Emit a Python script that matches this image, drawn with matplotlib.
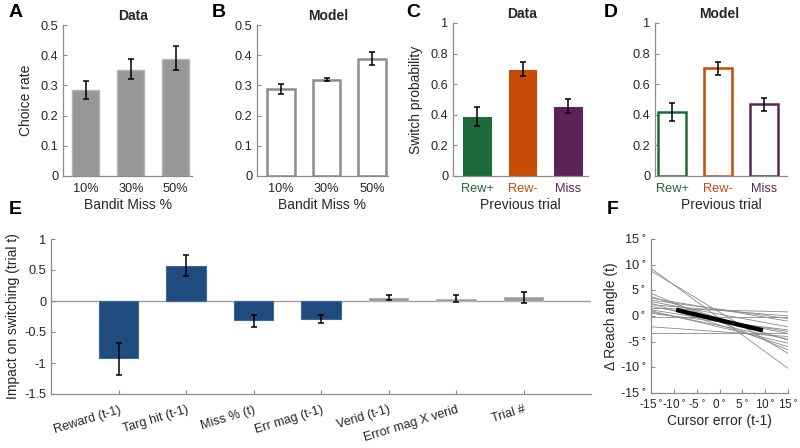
import matplotlib
matplotlib.use("Agg")
import matplotlib.pyplot as plt

plt.rcParams['font.family'] = ['Liberation Sans', 'DejaVu Sans']
plt.rcParams['axes.unicode_minus'] = False

# panels A/B: choice rate by bandit miss %
miss_labels = ['10%', '30%', '50%']
choice_data = [0.286, 0.351, 0.388]
choice_data_lo = [0.256, 0.321, 0.351]
choice_data_hi = [0.316, 0.386, 0.429]
choice_model = [0.289, 0.319, 0.389]
choice_model_lo = [0.271, 0.313, 0.369]
choice_model_hi = [0.304, 0.323, 0.410]

# panels C/D: switch probability by previous trial
prev_labels = ['Rew+', 'Rew-', 'Miss']
prev_colors = ['#1f6a3a', '#c84b06', '#5b2456']
switch_data = [0.387, 0.696, 0.453]
switch_data_lo = [0.326, 0.654, 0.414]
switch_data_hi = [0.453, 0.742, 0.501]
switch_model = [0.420, 0.709, 0.473]
switch_model_lo = [0.359, 0.661, 0.425]
switch_model_hi = [0.479, 0.748, 0.512]

# panel E: regression weights
reg_labels = ['Reward (t-1)', 'Targ hit (t-1)', 'Miss % (t)', 'Err mag (t-1)',
              'Verid (t-1)', 'Error mag X verid', 'Trial #']
reg_vals = [-0.92, 0.57, -0.31, -0.29, 0.045, 0.035, 0.06]
reg_lo = [-1.20, 0.41, -0.42, -0.36, 0.015, -0.02, -0.03]
reg_hi = [-0.67, 0.75, -0.22, -0.23, 0.09, 0.10, 0.15]
reg_sig = [True, True, True, True, False, False, False]

# panel F: per-subject fits, value at x=-15 and x=15
subj_left = [9.3, 8.8, 4.4, 3.8, 3.1, 2.5, 1.9, 1.5, 1.0, 0.5, -0.1, -2.1, -3.4,
             3.5, 2.2, 1.2, 0.8, 2.8]
subj_right = [-10.2, -7.3, -6.6, -4.7, -0.5, -6.0, -3.4, 0.8, -5.3, -2.7, -0.1, -4.0, -3.4,
              -1.0, 0.0, -3.0, -4.5, -2.1]
mean_x = [-9.5, 9.5]
mean_y = [1.2, -2.8]

W, H = 800, 448
fig = plt.figure(figsize=(8, 4.48), dpi=100)

SPINE = '#8c8c8c'
TXT = '#262626'
TICK_FS = 9.2
LAB_FS = 10


def make_ax(l, r, t, b):
    ax = fig.add_axes([l / W, 1 - b / H, (r - l) / W, (b - t) / H])
    for s in ['top', 'right']:
        ax.spines[s].set_visible(False)
    for s in ['left', 'bottom']:
        ax.spines[s].set_color(SPINE)
        ax.spines[s].set_linewidth(0.9)
    ax.tick_params(direction='in', length=3, width=0.8, color=SPINE,
                   labelsize=TICK_FS, labelcolor=TXT)
    return ax


def errs(v, lo, hi):
    return [[a - b for a, b in zip(v, lo)], [b - a for a, b in zip(v, hi)]]


def yfmt(v):
    return '0' if v == 0 else ('%g' % v)


def bar_panel(ax, vals, lo, hi, labels, face, edge, lw, ylim, yticks):
    x = [1, 2, 3]
    ax.bar(x, vals, width=0.6, color=face, edgecolor=edge, linewidth=lw, zorder=2)
    ax.errorbar(x, vals, yerr=errs(vals, lo, hi), fmt='none', ecolor='black',
                elinewidth=1.1, capsize=2.5, capthick=1.1, zorder=3)
    ax.set_ylim(*ylim)
    ax.set_yticks(yticks)
    ax.set_yticklabels([yfmt(v) for v in yticks])
    ax.set_xticks(x)
    ax.set_xticklabels(labels)
    ax.tick_params(axis='x', pad=5)


def title(ax, xf, s):
    ax.text(xf, 1.015, s, transform=ax.transAxes, ha='center', va='bottom',
            fontsize=10, fontweight='bold', color=TXT)


# A
axA = make_ax(63, 192, 25, 176)
bar_panel(axA, choice_data, choice_data_lo, choice_data_hi, miss_labels,
          '#979797', '#b4b4b4', 1.0, (0, 0.5), [0, 0.1, 0.2, 0.3, 0.4, 0.5])
axA.set_xlim(0.49, 3.36)
axA.set_ylabel('Choice rate', fontsize=LAB_FS, color=TXT, labelpad=5)
axA.set_xlabel('Bandit Miss %', fontsize=LAB_FS, color=TXT, labelpad=2)
title(axA, 0.54, 'Data')

# B
axB = make_ax(257, 388, 25, 176)
bar_panel(axB, choice_model, choice_model_lo, choice_model_hi, miss_labels,
          'white', '#8c8c8c', 1.8, (0, 0.5), [0, 0.1, 0.2, 0.3, 0.4, 0.5])
axB.set_xlim(0.47, 3.35)
axB.set_xlabel('Bandit Miss %', fontsize=LAB_FS, color=TXT, labelpad=2)
title(axB, 0.54, 'Model')

# C
axC = make_ax(453, 588, 23, 176)
bar_panel(axC, switch_data, switch_data_lo, switch_data_hi, prev_labels,
          prev_colors, prev_colors, 0.8, (0, 1), [0, 0.2, 0.4, 0.6, 0.8, 1])
axC.set_xlim(0.47, 3.44)
axC.set_ylabel('Switch probability', fontsize=LAB_FS, color=TXT, labelpad=5)
axC.set_xlabel('Previous trial', fontsize=LAB_FS, color=TXT, labelpad=2)
title(axC, 0.51, 'Data')
for lab, c in zip(axC.get_xticklabels(), prev_colors):
    lab.set_color(c)

# D
axD = make_ax(655, 787, 23, 176)
bar_panel(axD, switch_model, switch_model_lo, switch_model_hi, prev_labels,
          'white', prev_colors, 1.8, (0, 1), [0, 0.2, 0.4, 0.6, 0.8, 1])
axD.set_xlim(0.63, 3.5)
axD.set_xlabel('Previous trial', fontsize=LAB_FS, color=TXT, labelpad=2)
title(axD, 0.49, 'Model')
for lab, c in zip(axD.get_xticklabels(), prev_colors):
    lab.set_color(c)

# E
axE = make_ax(51, 591, 239, 394)
xe = list(range(1, len(reg_vals) + 1))
faces = ['#1f4b7e' if s else '#9a9a9a' for s in reg_sig]
edges = ['#3a6a9a' if s else '#b8b8b8' for s in reg_sig]
axE.axhline(0, color='#a0a0a0', linewidth=1.0, zorder=1)
axE.bar(xe, reg_vals, width=0.59, color=faces, edgecolor=edges, linewidth=0.8, zorder=2)
axE.errorbar(xe, reg_vals, yerr=errs(reg_vals, reg_lo, reg_hi), fmt='none',
             ecolor='black', elinewidth=1.1, capsize=2.5, capthick=1.1, zorder=3)
axE.set_xlim(0, 8)
axE.set_ylim(-1.5, 1)
yt = [-1.5, -1, -0.5, 0, 0.5, 1]
axE.set_yticks(yt)
axE.set_yticklabels([yfmt(v) for v in yt])
axE.set_xticks(xe)
axE.set_xticklabels(reg_labels, rotation=17, ha='right', rotation_mode='anchor',
                    fontsize=9)
axE.tick_params(axis='x', pad=7)
axE.set_ylabel('Impact on switching (trial t)', fontsize=LAB_FS, color=TXT, labelpad=3)

# F
axF = make_ax(651, 788, 239, 393)
for l, r in zip(subj_left, subj_right):
    axF.plot([-15, 15], [l, r], color='#8a8a8a', linewidth=0.6, zorder=1)
axF.plot(mean_x, mean_y, color='black', linewidth=3.2, solid_capstyle='butt', zorder=3)
axF.set_xlim(-15, 15)
axF.set_ylim(-15, 15)
ft = [-15, -10, -5, 0, 5, 10, 15]
axF.set_xticks(ft)
axF.set_yticks(ft)
axF.set_xticklabels(['%d$^\\circ$' % v for v in ft], fontsize=8.5)
axF.set_yticklabels(['%d$^\\circ$' % v for v in ft])
axF.tick_params(axis='x', pad=4)
axF.set_xlabel('Cursor error (t-1)', fontsize=LAB_FS, color=TXT, labelpad=2)
axF.set_ylabel('\u0394 Reach angle (t)', fontsize=LAB_FS, color=TXT, labelpad=1)

# panel letters
for letter, px, py in [('A', 9, 4), ('B', 212, 4), ('C', 406, 4), ('D', 604, 4),
                       ('E', 9, 201), ('F', 607, 201)]:
    fig.text(px / W, 1 - py / H, letter, ha='left', va='top', fontsize=14,
             fontweight='bold', color='black')

fig.savefig('out.png', dpi=100)
